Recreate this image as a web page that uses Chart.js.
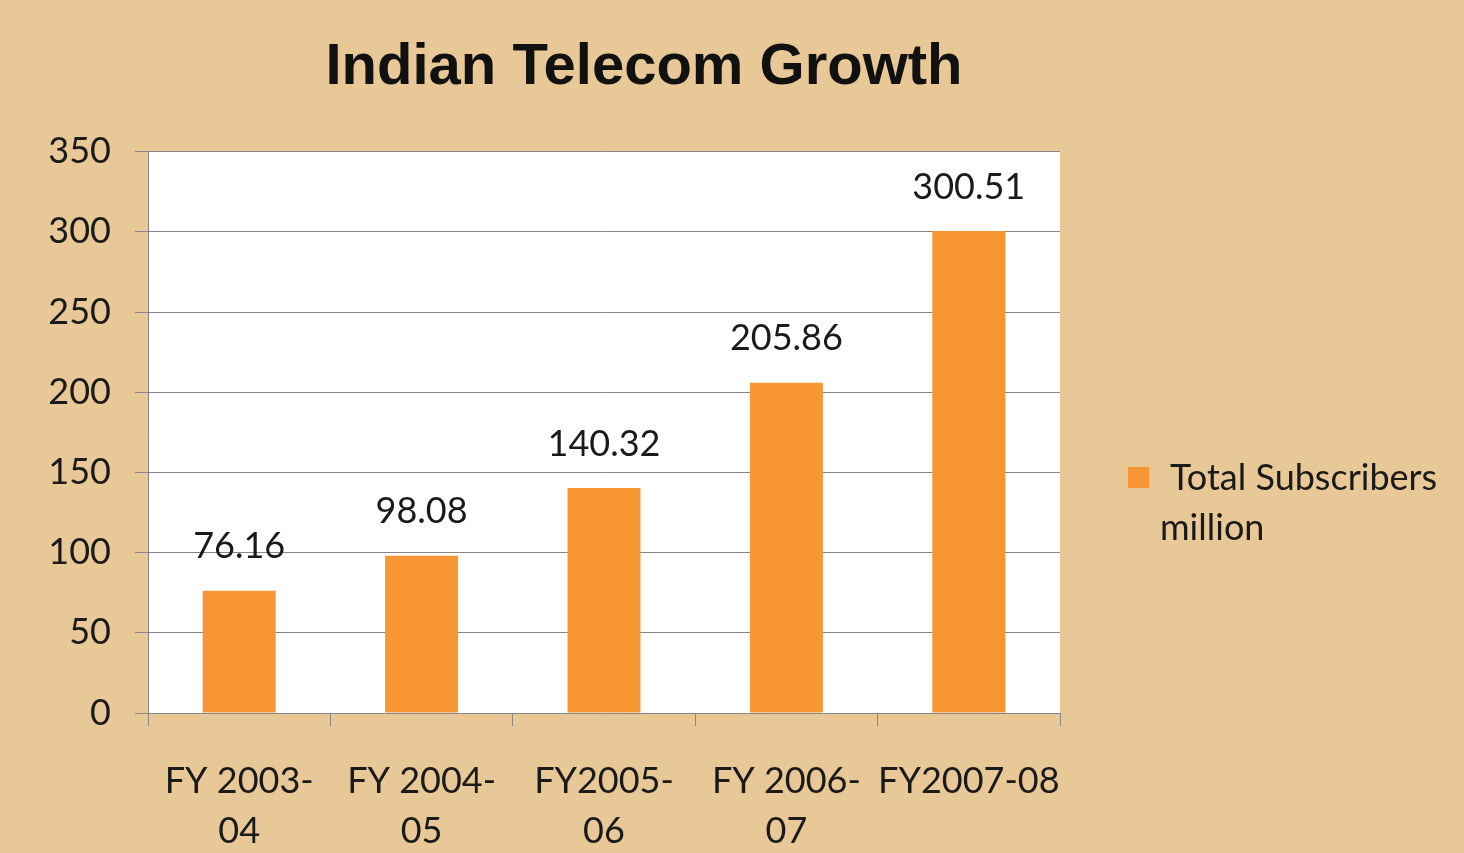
<!DOCTYPE html>
<html>
<head>
<meta charset="utf-8">
<script src="https://cdn.jsdelivr.net/npm/chart.js@4.4.0/dist/chart.umd.min.js"></script>
<style>
  html, body { margin: 0; padding: 0; background: #e9c897; }
  #wrap { width: 1464px; height: 853px; }
</style>
</head>
<body>
<div id="wrap"><canvas id="growth-chart" width="1464" height="853"></canvas></div>
<script>
const categories = [['FY 2003-', '04'], ['FY 2004-', '05'], ['FY2005-', '06'], ['FY 2006-', '07'], 'FY2007-08'];
const subscribers = [76.16, 98.08, 140.32, 205.86, 300.51];
const seriesName = 'Total Subscribers million';
const chartTitle = 'Indian Telecom Growth';

const FONT = 'Lato, Carlito, "Open Sans", sans-serif';

// white plot area behind the bars
const plotBackground = {
  id: 'plotBackground',
  beforeDraw(chart) {
    const { ctx, chartArea: a } = chart;
    ctx.save();
    ctx.fillStyle = '#ffffff';
    ctx.fillRect(a.left, a.top, a.right - a.left, a.bottom - a.top);
    ctx.restore();
  }
};

// value labels above each bar
const valueLabels = {
  id: 'valueLabels',
  afterDatasetsDraw(chart) {
    const { ctx } = chart;
    const meta = chart.getDatasetMeta(0);
    ctx.save();
    ctx.font = '36px ' + FONT;
    ctx.fillStyle = '#1a1a1a';
    ctx.textAlign = 'center';
    ctx.textBaseline = 'middle';
    meta.data.forEach((bar, i) => {
      ctx.fillText(subscribers[i].toFixed(2), bar.x, bar.y - 44);
    });
    ctx.restore();
  }
};

// legend on the right, wrapped on two lines like the original
const sideLegend = {
  id: 'sideLegend',
  afterDraw(chart) {
    const { ctx } = chart;
    const ds = chart.data.datasets[0];
    ctx.save();
    ctx.fillStyle = ds.backgroundColor;
    ctx.fillRect(1128, 467, 21, 21);
    ctx.font = '36px ' + FONT;
    ctx.fillStyle = '#1a1a1a';
    ctx.textBaseline = 'middle';
    const words = ds.label.split(' ');
    ctx.fillText(words.slice(0, 2).join(' '), 1170, 478);
    ctx.fillText(words.slice(2).join(' '), 1160, 528);
    ctx.restore();
  }
};

new Chart(document.getElementById('growth-chart'), {
  type: 'bar',
  data: {
    labels: categories,
    datasets: [{
      label: seriesName,
      data: subscribers,
      backgroundColor: '#f79633',
      borderWidth: 0,
      barPercentage: 0.4,
      categoryPercentage: 1
    }]
  },
  options: {
    responsive: false,
    animation: false,
    layout: { padding: { left: 0, right: 176, top: 0, bottom: 0 } },
    plugins: {
      legend: { display: false },
      tooltip: { enabled: false },
      title: {
        display: true,
        text: chartTitle,
        color: '#111111',
        font: { family: '"Liberation Sans", Arial, sans-serif', size: 58, weight: 'bold', lineHeight: 1.2 },
        padding: { top: 33, bottom: 49 }
      }
    },
    scales: {
      x: {
        grid: { offset: true, drawOnChartArea: false, color: '#868686', tickLength: 13 },
        border: { color: '#868686' },
        ticks: {
          color: '#1a1a1a',
          padding: 30,
          maxRotation: 0,
          autoSkip: false,
          font: { family: FONT, size: 36, lineHeight: 1.4 }
        },
        afterFit(scale) { scale.height = 140; }
      },
      y: {
        min: 0,
        max: 350,
        ticks: {
          stepSize: 50,
          color: '#1a1a1a',
          padding: 24,
          font: { family: FONT, size: 36 }
        },
        grid: { color: '#868686', tickLength: 13 },
        border: { color: '#868686' },
        afterFit(scale) { scale.width = 148; }
      },
      // empty right-hand axis that only reserves room for the legend
      legendRoom: {
        position: 'right',
        min: 0,
        max: 350,
        ticks: { display: false },
        grid: { display: false },
        border: { display: false },
        afterFit(scale) { scale.width = 228; }
      }
    }
  },
  plugins: [plotBackground, valueLabels, sideLegend]
});
</script>
</body>
</html>
